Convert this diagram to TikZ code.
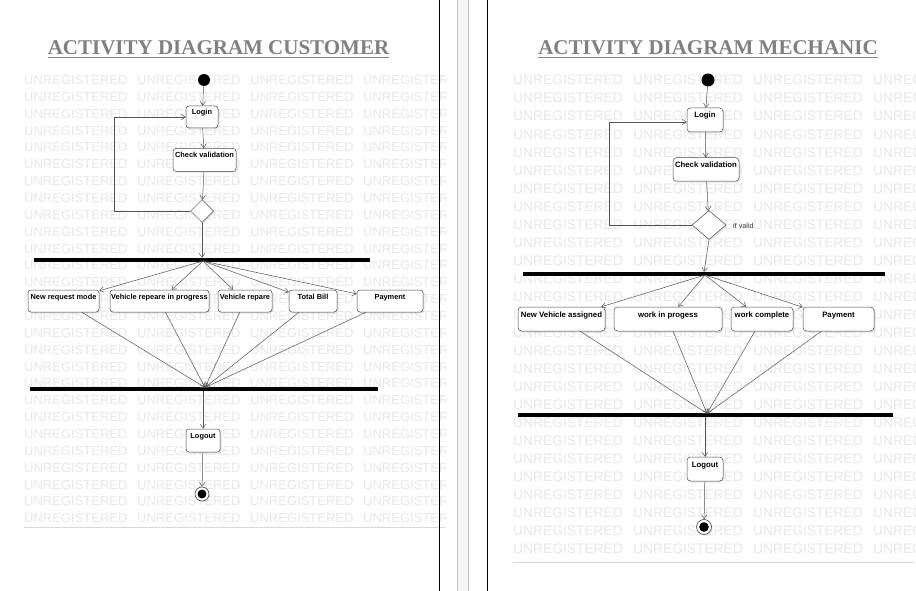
\documentclass[tikz,border=0pt]{standalone}
\usepackage{fontspec}
\setmainfont{Liberation Serif}
\newfontfamily\arialf{Liberation Sans}
\usetikzlibrary{arrows.meta,shapes.geometric,shadows}
\definecolor{wmgray}{gray}{0.91}
\definecolor{titlegray}{gray}{0.5}
\definecolor{edgegray}{gray}{0.28}
\definecolor{linegray}{gray}{0.33}
\begin{document}
\begin{tikzpicture}[x=1pt,y=-1pt,
  wmL/.style={font=\arialf\fontsize{13}{13}\selectfont, text=wmgray, inner sep=0pt, anchor=base west},
  wmR/.style={font=\arialf\fontsize{13.8}{13.8}\selectfont, text=wmgray, inner sep=0pt, anchor=base west},
  titlen/.style={font=\bfseries\fontsize{21}{21}\selectfont, text=titlegray, inner sep=0pt, anchor=base},
  tline/.style={draw=titlegray, line width=1.4pt},
  actL/.style 2 args={draw=edgegray, fill=white, rounded corners=3pt, line width=0.5pt,
     font=\arialf\bfseries\fontsize{7.4}{8}\selectfont, minimum width=#1,
     text height=7pt, text depth=#2, inner ysep=2pt, inner xsep=1pt,
     drop shadow={opacity=0.18, shadow xshift=1.5pt, shadow yshift=-1.5pt}},
  actR/.style 2 args={draw=edgegray, fill=white, rounded corners=3.5pt, line width=0.5pt,
     font=\arialf\bfseries\fontsize{7.8}{8.5}\selectfont, minimum width=#1,
     text height=7.5pt, text depth=#2, inner ysep=2.5pt, inner xsep=1pt,
     drop shadow={opacity=0.18, shadow xshift=1.5pt, shadow yshift=-1.5pt}},
  dia/.style 2 args={diamond, draw=edgegray, fill=white, line width=0.5pt, inner sep=0pt,
     minimum width=#1, minimum height=#2,
     drop shadow={opacity=0.18, shadow xshift=1.5pt, shadow yshift=-1.5pt}},
  forkbar/.style={rectangle, fill=black, inner sep=0pt, minimum height=4pt, minimum width=#1},
  initn/.style={circle, fill=black, inner sep=0pt, minimum size=#1},
  finaln/.style={circle, draw=edgegray, fill=white, line width=0.6pt, inner sep=0pt, minimum size=#1,
     path picture={\fill[black] (path picture bounding box.center) circle (0.32*#1);},
     drop shadow={opacity=0.18, shadow xshift=1.2pt, shadow yshift=-1.2pt}},
  arr/.style={draw=linegray, line width=0.5pt, -{Straight Barb[length=4pt,width=5.5pt]}},
  plain/.style={draw=linegray, line width=0.5pt}
]
\useasboundingbox (0,0) rectangle (916,591);
\fill[white] (0,0) rectangle (916,591);

% ---------- watermarks ----------
\begin{scope}
  \clip (0,0) rectangle (445,591);
  \foreach \r in {0,...,26}{
    \foreach \c in {0,...,3}{
      \node[wmL] (wl-\r-\c) at ({24+113*\c},{84.6+16.85*\r}) {UNREGISTERED};
    }
  }
\end{scope}
\begin{scope}
  \clip (489,0) rectangle (916,591);
  \foreach \r in {0,...,26}{
    \foreach \c in {0,...,3}{
      \node[wmR] (wr-\r-\c) at ({513+120*\c},{84.9+18.04*\r}) {UNREGISTERED};
    }
  }
\end{scope}

% ---------- page frame ----------
\draw[gray!30, line width=0.8pt] (24,527) -- (445,527);
\draw[gray!30, line width=0.8pt] (513,562) -- (914,562);
\fill[gray!7] (457,0) rectangle (468,591);
\draw[gray!45, line width=0.8pt] (457,0) -- (457,591);
\draw[gray!45, line width=0.8pt] (468,0) -- (468,591);
\draw[black, line width=1.2pt] (439.5,0) -- (439.5,591);
\draw[black, line width=1.2pt] (487.5,0) -- (487.5,591);

% ---------- titles ----------
\node[titlen] (t1) at (218.5,55) {ACTIVITY DIAGRAM CUSTOMER};
\draw[tline] ([yshift=-2.5pt]t1.base west) -- ([yshift=-2.5pt]t1.base east);
\node[titlen] (t2) at (708,55) {ACTIVITY DIAGRAM MECHANIC};
\draw[tline] ([yshift=-2.5pt]t2.base west) -- ([yshift=-2.5pt]t2.base east);

% ---------- customer diagram ----------
\node[initn=12pt] (i1) at (204,80) {};
\node[actL={32pt}{11pt}] (lg1) at (202,117) {Login};
\node[actL={63pt}{12pt}] (cv1) at (204.5,160) {Check validation};
\node[dia={23pt}{23pt}] (d1) at (202,211) {};
\node[forkbar=336pt] (fk1) at (202,260) {};
\coordinate (f1) at (203,261);
\node[actL={71pt}{11pt}] (b1) at (63.5,301) {New request mode};
\node[actL={99pt}{11pt}] (b2) at (159.5,301) {Vehicle repeare in progress};
\node[actL={54pt}{11pt}] (b3) at (245,301) {Vehicle repare};
\node[actL={48pt}{11pt}] (b4) at (313,301) {Total Bill};
\node[actL={66pt}{11pt}] (b5) at (390,301) {Payment};
\node[forkbar=348pt] (jn1) at (204,389) {};
\coordinate (j1) at (205,387.5);
\node[actL={34pt}{12pt}] (lo1) at (203,440.5) {Logout};
\node[finaln=14pt] (e1) at (202,494) {};

\draw[arr] (i1) -- (lg1);
\draw[arr] (lg1) -- (cv1);
\draw[arr] (cv1) -- (d1);
\draw[arr] (d1.west) -- ++(-76,0) |- (lg1.west);
\draw[arr] (d1.south) -- (d1.south |- fk1.north);
\foreach \b in {b1,b2,b3,b4,b5}{\draw[arr] (f1) -- (\b);}
\foreach \b in {b1,b2,b3,b4,b5}{\draw[arr] (\b) -- (j1);}
\draw[arr] (lo1.north |- jn1.south) -- (lo1.north);
\draw[arr] (lo1) -- (e1);

% ---------- mechanic diagram ----------
\node[initn=13pt] (i2) at (708,80) {};
\node[actR={36pt}{11.5pt}] (lg2) at (705,120) {Login};
\node[actR={66pt}{11pt}] (cv2) at (706,169.5) {Check validation};
\node[dia={34pt}{29pt}] (d2) at (709,225) {};
\node[font=\arialf\fontsize{7.2}{8}\selectfont, text=black!80, anchor=west, inner sep=0pt] (iv) at (733,226) {if valid};
\node[forkbar=362pt] (fk2) at (704,274) {};
\coordinate (f2) at (705,275);
\node[actR={87pt}{11.5pt}] (c1) at (561.5,319) {New Vehicle assigned};
\node[actR={108pt}{11.5pt}] (c2) at (668,319) {work in progess};
\node[actR={62pt}{11.5pt}] (c3) at (762,319) {work complete};
\node[actR={71pt}{11.5pt}] (c4) at (838.5,319) {Payment};
\node[forkbar=375pt] (jn2) at (705.5,415) {};
\coordinate (j2) at (707,413.5);
\node[actR={36pt}{11.5pt}] (lo2) at (705,469) {Logout};
\node[finaln=15pt] (e2) at (704,527) {};

\draw[arr] (i2) -- (lg2);
\draw[arr] (lg2) -- (cv2);
\draw[arr] (cv2) -- (d2);
\draw[arr] (d2.west) -- ++(-83,0) |- ([yshift=-2pt]lg2.west);
\draw[arr] (d2.south) -- (704,272);
\foreach \b in {c1,c2,c3,c4}{\draw[arr] (f2) -- (\b);}
\foreach \b in {c1,c2,c3,c4}{\draw[arr] (\b) -- (j2);}
\draw[arr] (lo2.north |- jn2.south) -- (lo2.north);
\draw[arr] (lo2) -- (e2);
\end{tikzpicture}
\end{document}
